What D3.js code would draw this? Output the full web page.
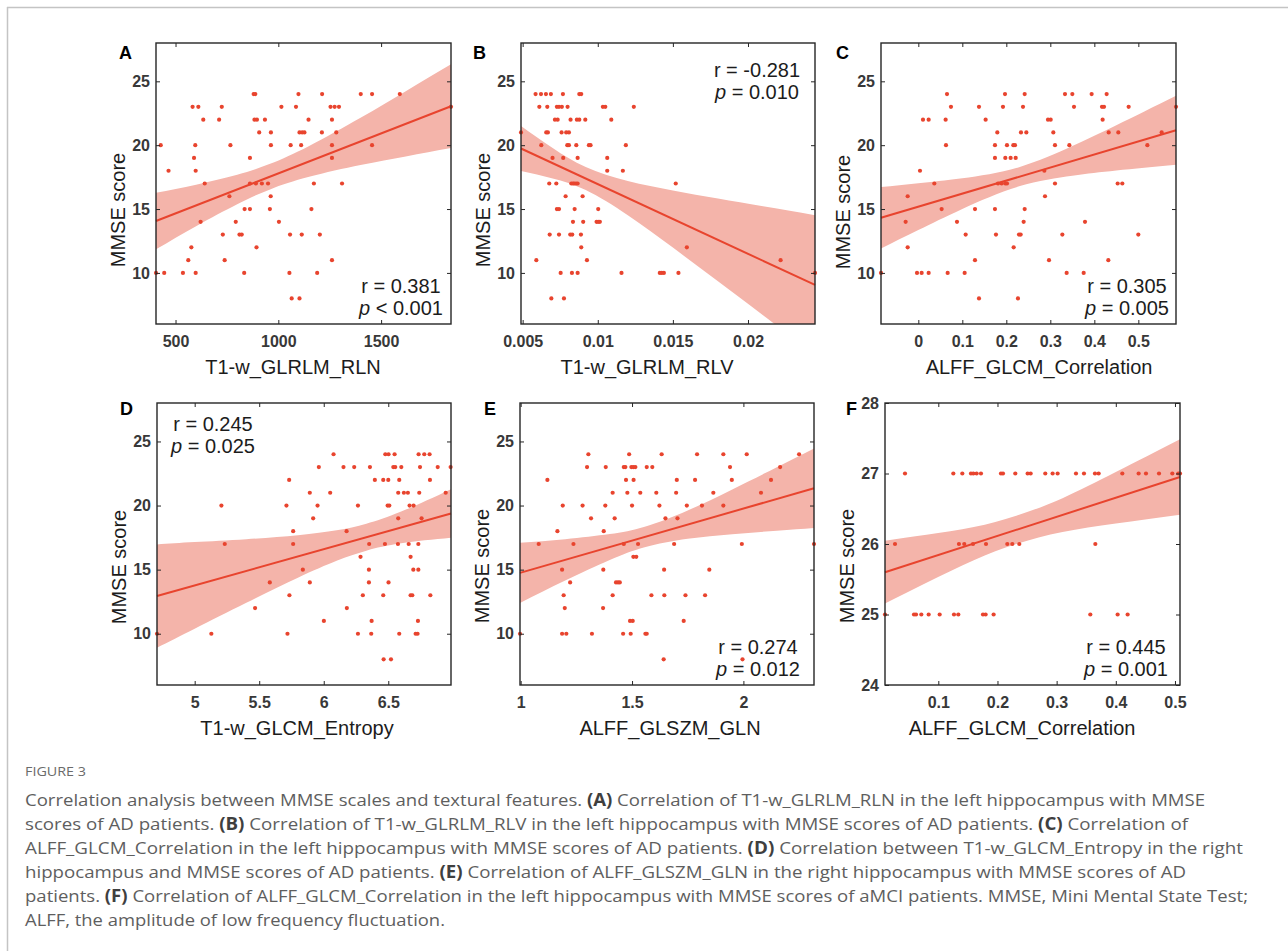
<!DOCTYPE html>
<html>
<head>
<meta charset="utf-8">
<script src="https://cdn.jsdelivr.net/npm/d3@7"></script>
<style>
  body { margin: 0; background: #fff; }
  svg text { font-family: "Liberation Sans", Arial, Helvetica, sans-serif; }
  .caption text { font-family: "Open Sans", "Noto Sans", sans-serif; }
</style>
</head>
<body>
<svg id="fig" width="1288" height="951"></svg>
<script>
// ---- data, rows = [MMSE score, [feature values]] ----
const rlnRows = [
  [24, [880, 888, 1098, 1213, 1401, 1456, 1591]],
  [23, [583, 611, 725, 1015, 1086, 1254, 1274, 1295, 1840]],
  [22, [635, 712, 884, 896, 935, 1147, 1261]],
  [21, [907, 964, 1103, 1116, 1127, 1212, 1282]],
  [20, [428, 596, 767, 964, 1060, 1111, 1261, 1456]],
  [19, [590, 862, 1261]],
  [18, [466, 598]],
  [17, [642, 862, 891, 920, 950, 1173, 1310]],
  [16, [762, 963]],
  [15, [836, 862, 959, 1161]],
  [14, [622, 793, 1003]],
  [13, [730, 811, 822, 1057, 1114, 1202]],
  [12, [577, 894]],
  [11, [562, 739, 1261]],
  [10, [405, 445, 536, 598, 834, 1054, 1189]],
  [8, [1065, 1103]]
];
const rlvRows = [
  [24, [0.00586, 0.00622, 0.00655, 0.00688, 0.00768, 0.00877, 0.00890]],
  [23, [0.00611, 0.00664, 0.00728, 0.00742, 0.00761, 0.00799, 0.01034, 0.01050, 0.01240]],
  [22, [0.00715, 0.00733, 0.00819, 0.00861, 0.00877, 0.00917, 0.01090]],
  [21, [0.00489, 0.00657, 0.00668, 0.00759, 0.00790, 0.00808]],
  [20, [0.00624, 0.00797, 0.00808, 0.00857, 0.00941, 0.00952, 0.01187]],
  [19, [0.00699, 0.00770, 0.00866, 0.01063]],
  [18, [0.01063, 0.01167]],
  [17, [0.00677, 0.00724, 0.00824, 0.00835, 0.00843, 0.00855, 0.00866, 0.01519]],
  [16, [0.00786, 0.00899]],
  [15, [0.00728, 0.00742, 0.00846, 0.01003]],
  [14, [0.00835, 0.00903, 0.00992, 0.01003, 0.01014]],
  [13, [0.00680, 0.00742, 0.00817, 0.00830, 0.00888]],
  [12, [0.00890, 0.01593]],
  [11, [0.00591, 0.00928, 0.02217]],
  [10, [0.00753, 0.00828, 0.00866, 0.01158, 0.01413, 0.01426, 0.01440, 0.01537, 0.02446]],
  [8, [0.00691, 0.00775]]
];
const corrRows = [
  [24, [0.0652, 0.1970, 0.2417, 0.3333, 0.3500, 0.3939, 0.4280]],
  [23, [0.0742, 0.1379, 0.1924, 0.2379, 0.3538, 0.4174, 0.4220, 0.4780, 0.5856]],
  [22, [0.0106, 0.0235, 0.0621, 0.1530, 0.2947, 0.3008, 0.4189]],
  [21, [0.1795, 0.2333, 0.2455, 0.3068, 0.4326, 0.4545, 0.5530]],
  [20, [0.0629, 0.1742, 0.2015, 0.2159, 0.2197, 0.3106, 0.3432, 0.5205]],
  [19, [0.1742, 0.1977, 0.2098, 0.2212]],
  [18, [0.0038, 0.2864]],
  [17, [0.0364, 0.1811, 0.1894, 0.1977, 0.2015, 0.3106, 0.4530, 0.4636]],
  [16, [-0.0242, 0.2879]],
  [15, [0.0530, 0.1288, 0.1742, 0.2417]],
  [14, [-0.0288, 0.0879, 0.2394, 0.3788]],
  [13, [0.1076, 0.1765, 0.2288, 0.2326, 0.3273, 0.5000]],
  [12, [-0.0242, 0.2167]],
  [11, [0.1288, 0.2970, 0.4318]],
  [10, [-0.0848, -0.0030, 0.0076, 0.0235, 0.0667, 0.1053, 0.3371, 0.3758]],
  [8, [0.1379, 0.2265]]
];
const entRows = [
  [24, [6.076, 6.477, 6.502, 6.549, 6.735, 6.779, 6.820]],
  [23, [5.962, 6.153, 6.236, 6.358, 6.539, 6.554, 6.601, 6.746, 6.883, 6.983]],
  [22, [5.732, 6.396, 6.461, 6.500, 6.585, 6.823]],
  [21, [5.892, 6.050, 6.577, 6.621, 6.652, 6.740, 6.945]],
  [20, [5.207, 5.711, 5.952, 6.265, 6.495, 6.508, 6.665, 6.696]],
  [19, [5.918, 6.577, 6.758]],
  [18, [5.763, 6.177]],
  [17, [5.233, 5.763, 6.352, 6.474, 6.575, 6.658, 6.733]],
  [16, [6.285, 6.673]],
  [15, [5.838, 6.350, 6.694, 6.733]],
  [14, [5.582, 5.892, 6.350, 6.502]],
  [13, [5.734, 6.303, 6.461, 6.673, 6.686, 6.826]],
  [12, [5.468, 6.179]],
  [11, [6.001, 6.371, 6.730]],
  [10, [4.708, 5.129, 5.719, 6.265, 6.368, 6.585, 6.712, 6.727]],
  [8, [6.464, 6.521]]
];
const glnRows = [
  [24, [1.304, 1.487, 1.633, 1.792, 1.910, 2.015, 2.250]],
  [23, [1.298, 1.382, 1.463, 1.470, 1.497, 1.506, 1.515, 1.566, 1.591, 1.940, 2.165]],
  [22, [1.120, 1.473, 1.507, 1.701, 1.783, 1.948, 2.124]],
  [21, [1.413, 1.479, 1.537, 1.609, 1.698, 1.865, 2.079]],
  [20, [1.189, 1.278, 1.380, 1.500, 1.623, 1.746, 1.814, 1.910]],
  [19, [1.316, 1.422, 1.650, 1.704]],
  [18, [1.165, 1.373]],
  [17, [1.081, 1.237, 1.463, 1.527, 1.689, 1.993, 2.317]],
  [16, [1.506, 1.519]],
  [15, [1.186, 1.371, 1.644, 1.847]],
  [14, [1.222, 1.428, 1.437, 1.445]],
  [13, [1.193, 1.413, 1.587, 1.645, 1.740, 1.828]],
  [12, [1.198, 1.370]],
  [11, [1.491, 1.503, 1.732]],
  [10, [0.997, 1.186, 1.205, 1.320, 1.460, 1.494, 1.560, 1.566]],
  [8, [1.642, 1.996]]
];
const mciRows = [
  [27, [0.0437, 0.1254, 0.1406, 0.1552, 0.1592, 0.1648, 0.1721, 0.2059, 0.2093, 0.2301, 0.2510, 0.2561,
        0.2808, 0.2932, 0.3017, 0.3327, 0.3462, 0.3648, 0.3710, 0.4110, 0.4386, 0.4510, 0.4730, 0.4955, 0.5056, 0.5085]],
  [26, [0.0268, 0.1349, 0.1439, 0.1586, 0.1806, 0.2166, 0.2251, 0.2369, 0.3654]],
  [25, [0.0099, 0.0589, 0.0623, 0.0713, 0.0837, 0.1023, 0.1265, 0.1338, 0.1755, 0.1800, 0.1935, 0.3569, 0.4031, 0.4200]]
];

// fitted line end points and 95% band [x, lower, upper]
const rlnFit = [[405, 14.06], [1840, 23.05]];
const rlnBand = [[405, 11.85, 16.27], [600, 13.66, 16.90], [800, 15.38, 17.68], [960, 16.54, 18.54],
  [1150, 17.52, 19.94], [1400, 18.44, 22.14], [1620, 19.12, 24.22], [1840, 19.77, 26.33]];
const rlvFit = [[0.00489, 19.74], [0.02446, 9.06]];
const rlvBand = [[0.00489, 17.97, 21.51], [0.0070, 17.40, 19.78], [0.0092, 16.49, 18.29], [0.0120, 14.52, 17.20],
  [0.0150, 11.98, 16.46], [0.0180, 9.34, 15.82], [0.0210, 6.68, 15.21], [0.02446, 3.60, 14.52]];
const corrFit = [[-0.0848, 14.32], [0.5856, 21.17]];
const corrBand = [[-0.0848, 11.92, 16.72], [0.0, 13.36, 17.02], [0.1, 15.01, 17.41], [0.229, 16.78, 18.28],
  [0.35, 17.61, 19.93], [0.45, 18.02, 21.56], [0.5856, 18.47, 23.87]];
const entFit = [[4.708, 12.94], [6.986, 19.38]];
const entBand = [[4.708, 8.91, 16.97], [5.0, 10.39, 17.15], [5.4, 12.42, 17.38], [5.8, 14.37, 17.69],
  [6.1, 15.69, 18.07], [6.33, 16.48, 18.58], [6.6, 17.05, 19.53], [6.986, 17.48, 21.28]];
const glnFit = [[0.997, 14.75], [2.317, 21.35]];
const glnBand = [[0.997, 12.40, 17.10], [1.2, 14.15, 17.38], [1.4, 15.75, 17.78], [1.557, 16.75, 18.35],
  [1.75, 17.41, 19.62], [1.95, 17.77, 21.26], [2.15, 18.04, 22.99], [2.317, 18.25, 24.45]];
const mciFit = [[0.0099, 25.60], [0.5085, 26.95]];
const mciBand = [[0.0099, 25.155, 26.045], [0.08, 25.45, 26.13], [0.16, 25.77, 26.24], [0.2317, 26.00, 26.40],
  [0.31, 26.17, 26.65], [0.40, 26.29, 27.02], [0.5085, 26.415, 27.485]];

const panelLetters = ["A", "B", "C", "D", "E", "F"];
const xLabels = ["T1-w_GLRLM_RLN", "T1-w_GLRLM_RLV", "ALFF_GLCM_Correlation",
                 "T1-w_GLCM_Entropy", "ALFF_GLSZM_GLN", "ALFF_GLCM_Correlation"];
const rTexts = ["r = 0.381", "r = -0.281", "r = 0.305", "r = 0.245", "r = 0.274", "r = 0.445"];
const pTexts = [" < 0.001", " = 0.010", " = 0.005", " = 0.025", " = 0.012", " = 0.001"];
const xTickSets = [[500, 1000, 1500], [0.005, 0.01, 0.015, 0.02], [0, 0.1, 0.2, 0.3, 0.4, 0.5],
                   [5, 5.5, 6, 6.5], [1, 1.5, 2], [0.1, 0.2, 0.3, 0.4, 0.5]];
const yTickMain = [10, 15, 20, 25];
const yTickMci = [24, 25, 26, 27, 28];

const red = "#e8442e", pink = "#f4b4aa", ink = "#1c1c1c", axisInk = "#262626", tickInk = "#383838";

const svg = d3.select("#fig");

// page frame lines
svg.append("line").attr("x1", 7).attr("x2", 1288).attr("y1", 7.5).attr("y2", 7.5)
  .attr("stroke", "#c4c4c4").attr("stroke-width", 1.5);
svg.append("line").attr("x1", 7.5).attr("x2", 7.5).attr("y1", 7).attr("y2", 951)
  .attr("stroke", "#c4c4c4").attr("stroke-width", 1.5);

const rowsToPts = rows => rows.flatMap(([s, xs]) => xs.map(v => [v, s]));

let panels = [
  { rows: rlnRows, fit: rlnFit, band: rlnBand, xd: [405, 1840], yd: [6, 28], yt: yTickMain,
    box: [156, 43, 451, 324], stat: [401, 293], xlx: 293, yly: 210, let: [119, 59] },
  { rows: rlvRows, fit: rlvFit, band: rlvBand, xd: [0.00489, 0.02446], yd: [6, 28], yt: yTickMain,
    box: [521, 43, 815, 324], stat: [757, 77], xlx: 647, yly: 210, let: [473, 59] },
  { rows: corrRows, fit: corrFit, band: corrBand, xd: [-0.0848, 0.5856], yd: [6, 28], yt: yTickMain,
    box: [881, 43, 1176, 324], stat: [1127, 293], xlx: 1039, yly: 212, let: [836, 59] },
  { rows: entRows, fit: entFit, band: entBand, xd: [4.708, 6.986], yd: [6, 28], yt: yTickMain,
    box: [157, 403, 451, 685], stat: [213, 431], xlx: 297, yly: 567, let: [120, 415] },
  { rows: glnRows, fit: glnFit, band: glnBand, xd: [0.997, 2.317], yd: [6, 28], yt: yTickMain,
    box: [520, 403, 814, 685], stat: [758, 654], xlx: 670, yly: 566, let: [484, 415] },
  { rows: mciRows, fit: mciFit, band: mciBand, xd: [0.0099, 0.5085], yd: [24, 28], yt: yTickMci,
    box: [885, 403, 1180, 685], stat: [1126, 654], xlx: 1022, yly: 566, let: [846, 415] }
];

panels.forEach((p, i) => {
  const [l, t, r, b] = p.box;
  const x = d3.scaleLinear().domain(p.xd).range([l, r]);
  const y = d3.scaleLinear().domain(p.yd).range([b, t]);
  const g = svg.append("g");

  const clipId = "clip" + i;
  svg.append("clipPath").attr("id", clipId)
    .append("rect").attr("x", l).attr("y", t).attr("width", r - l).attr("height", b - t);

  // confidence band
  const area = d3.area().x(d => x(d[0])).y0(d => y(d[1])).y1(d => y(d[2])).curve(d3.curveNatural);
  g.append("path").datum(p.band).attr("d", area).attr("fill", pink)
    .attr("clip-path", `url(#${clipId})`);

  // fitted line
  g.append("line")
    .attr("x1", x(p.fit[0][0])).attr("y1", y(p.fit[0][1]))
    .attr("x2", x(p.fit[1][0])).attr("y2", y(p.fit[1][1]))
    .attr("stroke", red).attr("stroke-width", 2);

  // points
  g.selectAll("circle").data(rowsToPts(p.rows)).enter().append("circle")
    .attr("cx", d => x(d[0])).attr("cy", d => y(d[1])).attr("r", 2.1).attr("fill", red);

  // axes with inward ticks on all four sides
  const style = sel => {
    sel.select(".domain").remove();
    sel.selectAll(".tick line").attr("stroke", axisInk).attr("stroke-width", 1);
    sel.selectAll(".tick text").attr("fill", tickInk).style("font-size", "16px").style("font-weight", "bold")
      .style("font-family", '"Liberation Sans", Arial, sans-serif');
  };
  g.append("g").attr("transform", `translate(0,${b})`)
    .call(d3.axisBottom(x).tickValues(xTickSets[i]).tickFormat(d => String(d)).tickSize(-4).tickPadding(12))
    .call(style);
  g.append("g").attr("transform", `translate(0,${t})`)
    .call(d3.axisTop(x).tickValues(xTickSets[i]).tickFormat("").tickSize(-4)).call(style);
  g.append("g").attr("transform", `translate(${l},0)`)
    .call(d3.axisLeft(y).tickValues(p.yt).tickFormat(d => String(d)).tickSize(-4).tickPadding(6)).call(style);
  g.append("g").attr("transform", `translate(${r},0)`)
    .call(d3.axisRight(y).tickValues(p.yt).tickFormat("").tickSize(-4)).call(style);

  g.append("rect").attr("x", l).attr("y", t).attr("width", r - l).attr("height", b - t)
    .attr("fill", "none").attr("stroke", axisInk).attr("stroke-width", 1.4);

  // labels
  g.append("text").attr("x", p.xlx).attr("y", b + 50).attr("text-anchor", "middle")
    .attr("fill", ink).style("font-size", "20px").text(xLabels[i]);
  g.append("text").attr("transform", `translate(${l - 38},${p.yly}) rotate(-90)`)
    .attr("text-anchor", "middle").attr("dy", "0.35em")
    .attr("fill", ink).style("font-size", "20px").text("MMSE score");
  g.append("text").attr("x", p.let[0]).attr("y", p.let[1]).attr("fill", "#000")
    .style("font-size", "18px").style("font-weight", "bold").text(panelLetters[i]);

  // statistics
  g.append("text").attr("x", p.stat[0]).attr("y", p.stat[1]).attr("text-anchor", "middle")
    .attr("fill", ink).style("font-size", "20px").text(rTexts[i]);
  const pt = g.append("text").attr("x", p.stat[0]).attr("y", p.stat[1] + 22).attr("text-anchor", "middle")
    .attr("fill", ink).style("font-size", "20px");
  pt.append("tspan").style("font-style", "italic").text("p");
  pt.append("tspan").text(pTexts[i]);
});

// caption
const captionLines = [
  [["Correlation analysis between MMSE scales and textural features. ", 0], ["(A)", 1], [" Correlation of T1-w_GLRLM_RLN in the left hippocampus with MMSE", 0]],
  [["scores of AD patients. ", 0], ["(B)", 1], [" Correlation of T1-w_GLRLM_RLV in the left hippocampus with MMSE scores of AD patients. ", 0], ["(C)", 1], [" Correlation of", 0]],
  [["ALFF_GLCM_Correlation in the left hippocampus with MMSE scores of AD patients. ", 0], ["(D)", 1], [" Correlation between T1-w_GLCM_Entropy in the right", 0]],
  [["hippocampus and MMSE scores of AD patients. ", 0], ["(E)", 1], [" Correlation of ALFF_GLSZM_GLN in the right hippocampus with MMSE scores of AD", 0]],
  [["patients. ", 0], ["(F)", 1], [" Correlation of ALFF_GLCM_Correlation in the left hippocampus with MMSE scores of aMCI patients. MMSE, Mini Mental State Test;", 0]],
  [["ALFF, the amplitude of low frequency fluctuation.", 0]]
];
const captionWidths = [1180, 1163, 1218, 1161, 1223, 420];
const cap = svg.append("g").attr("class", "caption");
cap.append("text").attr("x", 25).attr("y", 776).attr("fill", "#6a6a6a")
  .attr("textLength", 61).attr("lengthAdjust", "spacingAndGlyphs")
  .style("font-size", "13px").text("FIGURE 3");
captionLines.forEach((line, k) => {
  const tx = cap.append("text").attr("x", 25).attr("y", 806 + k * 24)
    .attr("textLength", captionWidths[k]).attr("lengthAdjust", "spacingAndGlyphs")
    .attr("fill", "#5e5e5e").style("font-size", "17px");
  line.forEach(([s, bold]) => {
    const ts = tx.append("tspan").text(s);
    if (bold) ts.style("font-weight", "bold").attr("fill", "#3f3f3f");
  });
});
</script>
</body>
</html>
